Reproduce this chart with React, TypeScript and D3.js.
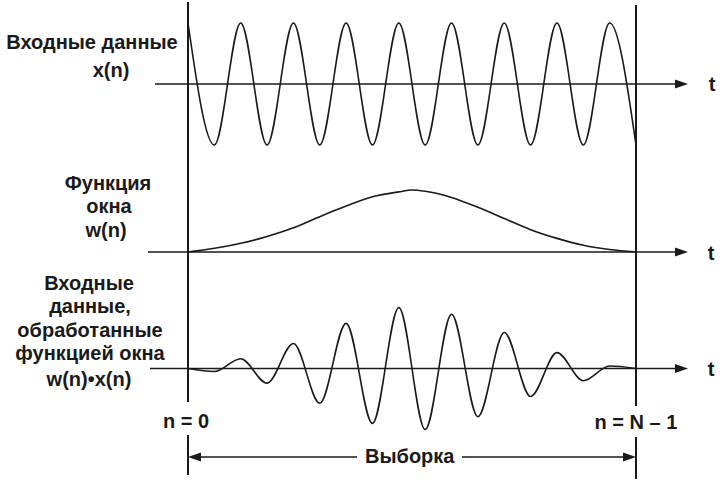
import React from "react";
import * as d3 from "d3";

// Sample index domain (n = 0 … N-1)
const N = 256;

// Extrema positions of the input signal x(n) (sample index) and their values
const extremaN = [0, 15, 30, 45, 60, 75, 90, 105, 120, 135, 150, 165, 180, 195, 210, 225, 240, 255];
const inputValues = [1, -1, 1, -1, 1, -1, 1, -1, 1, -1, 1, -1, 1, -1, 1, -1, 1, -1];

// Window function w(n)
const windowN = [0, 15, 30, 45, 60, 75, 90, 105, 120, 127.5, 135, 150, 165, 180, 195, 210, 225, 240, 255];
const windowValues = [0, 0.06, 0.14, 0.25, 0.39, 0.57, 0.74, 0.89, 0.97, 1.0, 0.98, 0.88, 0.72, 0.54, 0.36, 0.22, 0.11, 0.04, 0];

// Windowed signal w(n)·x(n) extrema
const productValues = [0, -0.05, 0.16, -0.24, 0.41, -0.57, 0.74, -0.9, 1.0, -1.0, 0.89, -0.79, 0.59, -0.46, 0.26, -0.2, 0.04, 0];

// Labels
const topLabel = ["Входные данные", "x(n)"];
const midLabel = ["Функция", "окна", "w(n)"];
const botLabel = ["Входные", "данные,", "обработанные", "функцией окна", "w(n)•x(n)"];
const axisLabel = "t";
const startLabel = "n = 0";
const endLabel = "n = N – 1";
const spanLabel = "Выборка";

const W = 724;
const H = 482;
const X0 = 188;
const X1 = 636;

const ink = "#1a1a1a";
const font = "'Liberation Sans', Arial, Helvetica, sans-serif";

function Arrow({ x1, x2, y }: { x1: number; x2: number; y: number }) {
  const dir = Math.sign(x2 - x1);
  const len = 13;
  const hw = 4.5;
  return (
    <g>
      <line x1={x1} x2={x2 - dir * len + dir} y1={y} y2={y} stroke={ink} strokeWidth={1.6} />
      <polygon
        points={`${x2},${y} ${x2 - dir * len},${y - hw} ${x2 - dir * len},${y + hw}`}
        fill={ink}
      />
    </g>
  );
}

export default function App() {
  const x = d3.scaleLinear().domain([0, N - 1]).range([X0, X1]);
  const yTop = d3.scaleLinear().domain([-1, 1]).range([145, 23]);
  const yMid = d3.scaleLinear().domain([0, 1]).range([252, 190]);
  const yBot = d3.scaleLinear().domain([-1, 1]).range([429.5, 307.5]);

  const pts = (ns: number[], vs: number[]) => ns.map((n, i) => [n, vs[i]] as [number, number]);

  const lineTop = d3
    .line<[number, number]>()
    .x((d) => x(d[0]))
    .y((d) => yTop(d[1]))
    .curve(d3.curveMonotoneX);
  const lineMid = d3
    .line<[number, number]>()
    .x((d) => x(d[0]))
    .y((d) => yMid(d[1]))
    .curve(d3.curveMonotoneX);
  const lineBot = d3
    .line<[number, number]>()
    .x((d) => x(d[0]))
    .y((d) => yBot(d[1]))
    .curve(d3.curveMonotoneX);

  const textProps = {
    fontFamily: font,
    fontWeight: 700 as const,
    fontSize: 20,
    fill: ink,
  };

  return (
    <svg
      width={W}
      height={H}
      viewBox={`0 0 ${W} ${H}`}
      style={{ position: "absolute", left: 0, top: 0, background: "#fff" }}
    >
      <rect x={0} y={0} width={W} height={H} fill="#fff" />

      {/* Vertical boundary lines */}
      <line x1={X0} x2={X0} y1={2} y2={402} stroke={ink} strokeWidth={2} />
      <line x1={X0} x2={X0} y1={435} y2={475} stroke={ink} strokeWidth={2} />
      <line x1={X1} x2={X1} y1={5} y2={406} stroke={ink} strokeWidth={2} />
      <line x1={X1} x2={X1} y1={437} y2={479} stroke={ink} strokeWidth={2} />

      {/* Time axes */}
      <Arrow x1={155} x2={688} y={84} />
      <Arrow x1={148} x2={688} y={252} />
      <Arrow x1={150} x2={688} y={368.5} />

      {/* Curves */}
      <path d={lineTop(pts(extremaN, inputValues)) || ""} fill="none" stroke={ink} strokeWidth={1.6} />
      <path d={lineMid(pts(windowN, windowValues)) || ""} fill="none" stroke={ink} strokeWidth={1.6} />
      <path d={lineBot(pts(extremaN, productValues)) || ""} fill="none" stroke={ink} strokeWidth={1.6} />

      {/* t labels */}
      <text {...textProps} x={712} y={91} textAnchor="middle">{axisLabel}</text>
      <text {...textProps} x={711} y={260} textAnchor="middle">{axisLabel}</text>
      <text {...textProps} x={711} y={376} textAnchor="middle">{axisLabel}</text>

      {/* Left labels */}
      <text {...textProps} x={92} y={49} textAnchor="middle">{topLabel[0]}</text>
      <text {...textProps} x={111} y={77} textAnchor="middle">{topLabel[1]}</text>

      <text {...textProps} x={108} y={190} textAnchor="middle">{midLabel[0]}</text>
      <text {...textProps} x={109} y={213} textAnchor="middle">{midLabel[1]}</text>
      <text {...textProps} x={106} y={237} textAnchor="middle">{midLabel[2]}</text>

      <text {...textProps} x={89} y={290} textAnchor="middle">{botLabel[0]}</text>
      <text {...textProps} x={90} y={313} textAnchor="middle">{botLabel[1]}</text>
      <text {...textProps} x={90} y={337} textAnchor="middle">{botLabel[2]}</text>
      <text {...textProps} x={90} y={360} textAnchor="middle">{botLabel[3]}</text>
      <text {...textProps} x={89} y={386} textAnchor="middle">{botLabel[4]}</text>

      {/* n labels */}
      <text {...textProps} x={186} y={428} textAnchor="middle">{startLabel}</text>
      <text {...textProps} x={636} y={429} textAnchor="middle">{endLabel}</text>

      {/* Sample span */}
      <Arrow x1={357} x2={X0} y={457} />
      <text {...textProps} x={365} y={463} textAnchor="start">{spanLabel}</text>
      <Arrow x1={462} x2={X1} y={457} />
    </svg>
  );
}
